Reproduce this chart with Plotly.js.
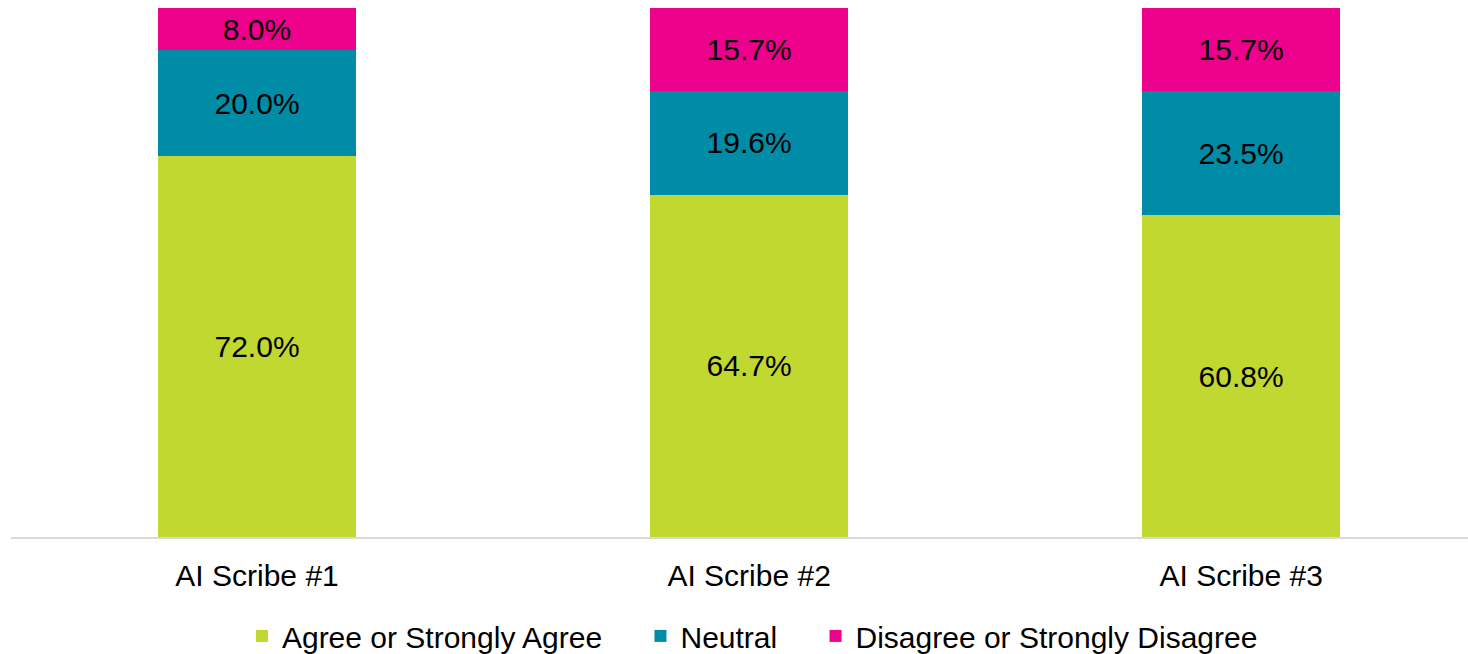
<!DOCTYPE html>
<html>
<head>
<meta charset="utf-8">
<script src="https://cdn.plot.ly/plotly-3.0.1.min.js"></script>
<style>html,body{margin:0;padding:0;background:#fff;}#chart{width:1468px;height:654px;}</style>
</head>
<body>
<div id="chart"></div>
<script>
const categories = ["AI Scribe #1", "AI Scribe #2", "AI Scribe #3"];
const agree = [72.0, 64.7, 60.8];
const neutral = [20.0, 19.6, 23.5];
const disagree = [8.0, 15.7, 15.7];
const seriesNames = ["Agree or Strongly Agree", "Neutral", "Disagree or Strongly Disagree"];
const colors = ["#C0D82F", "#008CA7", "#EC008C"];

const pad = "\u00A0\u00A0\u00A0\u00A0";
const series = [agree, neutral, disagree];
const traces = series.map((vals, i) => ({
  type: "bar",
  name: seriesNames[i] + (i < 2 ? pad : ""),
  x: categories,
  y: vals,
  width: 0.402,
  marker: {color: colors[i], line: {width: 0}},
  text: vals.map(v => v.toFixed(1) + "%"),
  texttemplate: "%{text}",
  textposition: "inside",
  insidetextanchor: "middle",
  textangle: 0,
  constraintext: "none",
  textfont: {family: "Liberation Sans, Arial, sans-serif", size: 30, color: "#000"},
  hoverinfo: "skip"
}));

const layout = {
  width: 1468,
  height: 654,
  barmode: "stack",
  margin: {l: 11, r: 0, t: 8, b: 117, autoexpand: false},
  paper_bgcolor: "#fff",
  plot_bgcolor: "#fff",
  font: {family: "Liberation Sans, Arial, sans-serif", size: 30, color: "#000"},
  xaxis: {
    type: "category",
    range: [-0.5, 2.461],
    showline: true,
    linecolor: "#D9D9D9",
    linewidth: 2,
    ticks: "outside",
    ticklen: 11,
    tickcolor: "rgba(0,0,0,0)",
    tickfont: {size: 30, color: "#000"},
    showgrid: false,
    zeroline: false,
    fixedrange: true
  },
  yaxis: {
    range: [0, 100],
    visible: false,
    showgrid: false,
    zeroline: false,
    fixedrange: true
  },
  showlegend: true,
  legend: {
    orientation: "h",
    x: 0.1585,
    xanchor: "left",
    y: -0.187,
    yanchor: "middle",
    traceorder: "normal",
    font: {size: 30, color: "#000"},
    itemwidth: 30
  }
};

Plotly.newPlot("chart", traces, layout, {displayModeBar: false, staticPlot: true});
</script>
</body>
</html>
